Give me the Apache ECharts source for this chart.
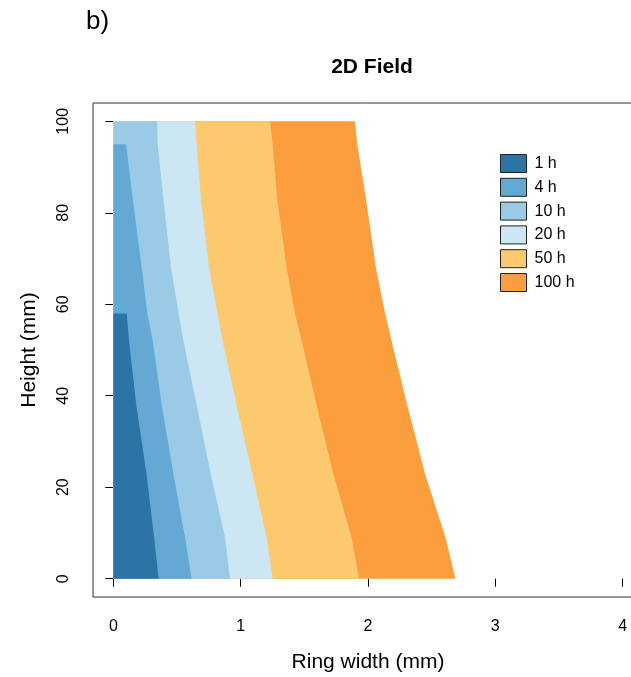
<!DOCTYPE html>
<html>
<head>
<meta charset="utf-8">
<script src="https://cdn.jsdelivr.net/npm/echarts@6/dist/echarts.min.js"></script>
<style>
  html, body { margin: 0; padding: 0; background: #fff; }
  #chart { width: 631px; height: 677px; }
</style>
</head>
<body>
<div id="chart"></div>
<script>
// heights (mm) where the right edge of each zone was read
var heights = [0, 9, 23, 38, 52, 58, 68, 83, 95, 100];

// right edge (ring width, mm) of each zone at those heights; null = zone absent
var edge1h   = [0.356, 0.320, 0.260, 0.180, 0.123, 0.105, null,  null,  null,  null];
var edge4h   = [0.615, 0.563, 0.471, 0.380, 0.309, 0.267, 0.223, 0.152, 0.100, null];
var edge10h  = [0.916, 0.877, 0.764, 0.654, 0.550, 0.513, 0.453, 0.393, 0.348, 0.343];
var edge20h  = [1.251, 1.204, 1.091, 0.968, 0.858, 0.819, 0.751, 0.688, 0.654, 0.641];
var edge50h  = [1.929, 1.871, 1.727, 1.596, 1.479, 1.426, 1.361, 1.287, 1.251, 1.230];
var edge100h = [2.687, 2.609, 2.447, 2.308, 2.185, 2.135, 2.062, 1.984, 1.916, 1.897];

var zoneNames  = ['1 h', '4 h', '10 h', '20 h', '50 h', '100 h'];
var zoneColors = ['#2c74a6', '#63a9d4', '#9bcae6', '#cce6f3', '#fcc96e', '#fd9e3e'];
var zoneEdges  = [edge1h, edge4h, edge10h, edge20h, edge50h, edge100h];

var xTicks = [0, 1, 2, 3, 4];
var yTicks = [0, 20, 40, 60, 80, 100];

function zoneSeries(i) {
  var edges = zoneEdges[i];
  var pts = [[0, heights[0]]];
  heights.forEach(function(h, k) {
    if (edges[k] != null) pts.push([edges[k], h]);
  });
  pts.push([0, pts[pts.length - 1][1]]);
  var color = zoneColors[i];
  return {
    type: 'custom',
    name: zoneNames[i],
    data: pts,
    encode: { x: 0, y: 1 },
    z: 10 - i,
    itemStyle: { color: color },
    silent: true,
    renderItem: function(params, api) {
      if (params.dataIndex !== 0) return;
      return {
        type: 'polygon',
        shape: { points: pts.map(function(p) { return api.coord(p); }) },
        style: { fill: color }
      };
    }
  };
}

var series = [];
for (var i = zoneNames.length - 1; i >= 0; i--) series.push(zoneSeries(i));

var font = 'Liberation Sans';
var chart = echarts.init(document.getElementById('chart'));
chart.setOption({
  animation: false,
  textStyle: { fontFamily: font },
  title: {
    text: '2D Field',
    left: 367,
    top: 52,
    textAlign: 'center',
    textStyle: { fontSize: 21, fontWeight: 'bold', color: '#000', fontFamily: font }
  },
  graphic: [{
    type: 'text',
    left: 86,
    top: 9,
    style: { text: 'b)', fontSize: 26, fill: '#000', fontFamily: font }
  }],
  legend: {
    orient: 'vertical',
    left: 495,
    top: 149,
    itemWidth: 26,
    itemHeight: 18,
    itemGap: 4.8,
    icon: 'rect',
    data: zoneNames,
    selectedMode: false,
    itemStyle: { borderColor: '#222', borderWidth: 1 },
    textStyle: { fontSize: 16, color: '#000', padding: [0, 0, 0, 3], fontFamily: font }
  },
  grid: {
    left: 93,
    top: 103,
    width: 550,
    height: 494,
    outerBoundsMode: 'none',
    show: true,
    borderColor: '#333',
    borderWidth: 1,
    backgroundColor: 'transparent'
  },
  xAxis: {
    type: 'value',
    min: -0.16,
    max: 4.16,
    name: 'Ring width (mm)',
    nameLocation: 'middle',
    nameGap: 55,
    nameTextStyle: { fontSize: 21, color: '#000', fontFamily: font },
    axisLine: { show: false },
    splitLine: { show: false },
    axisTick: { show: true, length: 8, customValues: xTicks, lineStyle: { color: '#000' } },
    axisLabel: { customValues: xTicks, margin: 22, fontSize: 16, color: '#000', fontFamily: font }
  },
  yAxis: {
    type: 'value',
    min: -4,
    max: 104,
    name: 'Height (mm)',
    nameLocation: 'middle',
    nameGap: 53,
    nameTextStyle: { fontSize: 21, color: '#000', fontFamily: font },
    axisLine: { show: false },
    splitLine: { show: false },
    axisTick: { show: true, length: 8, customValues: yTicks, lineStyle: { color: '#000' } },
    axisLabel: { customValues: yTicks, rotate: 90, margin: 21, fontSize: 16, color: '#000', fontFamily: font }
  },
  series: series
});
</script>
</body>
</html>
